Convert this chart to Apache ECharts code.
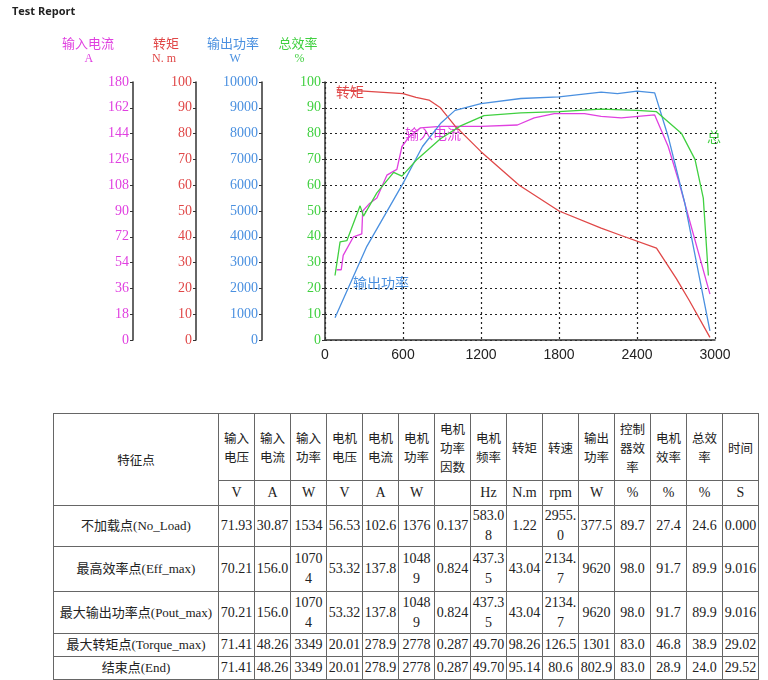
<!DOCTYPE html>
<html><head><meta charset="utf-8">
<script src="https://cdn.jsdelivr.net/npm/echarts@6/dist/echarts.min.js"></script>
<style>
body{margin:0;background:#fff;width:768px;height:680px;overflow:hidden;position:relative;font-family:"Liberation Serif","Noto Sans CJK SC",serif;}
#title{position:absolute;left:12px;top:3px;font:bold 11px "Open Sans",sans-serif;color:#222;}
#chart{position:absolute;left:0;top:0;width:768px;height:400px;}
table{position:absolute;left:53px;top:413px;border-collapse:collapse;table-layout:fixed;width:705px;font-size:14px;color:#222;}
td{border:1px solid #666;text-align:center;padding:0 1px;word-break:break-all;line-height:20px;}
td.cn{font-family:"Noto Sans CJK SC",sans-serif;font-size:12.5px;line-height:19px;}
td.rn{font-family:"Liberation Serif","Noto Sans CJK SC";white-space:nowrap;font-size:13px;}
</style></head><body>
<div id="chart"></div>
<div id="title">Test Report</div>
<table id="tbl"></table>
<script>
// chart data: [rpm, value]
const torque = [[90,97],[300,96.5],[450,96],[600,95.5],[700,94],[800,93],[888,90],[1000,83],[1200,73],[1494,60],[1800,50],[2124,43.4],[2279,40.5],[2550,35.6],[2704,23.7],[2800,15.5],[2961,1]];
const power = [[77,860],[322,3630],[600,6070],[750,7500],[888,8390],[1000,8900],[1200,9160],[1506,9360],[1800,9420],[2124,9610],[2250,9550],[2400,9650],[2536,9580],[2640,7880],[2768,5300],[2961,350]];
const current = [[90,49],[125,49],[140,59],[219,72],[283,74],[290,90],[340,95],[399,99],[476,115],[553,119],[592,135],[650,142],[734,148],[888,149],[1200,149],[1480,150],[1609,155],[1764,158],[1996,158],[2124,156],[2279,155],[2536,157],[2640,135],[2717,112],[2961,32]];
const effic = [[77,25],[116,38],[168,38.5],[270,52],[296,48],[399,57],[528,65],[592,63.5],[708,70],[888,78],[1043,83],[1223,87],[1506,88],[1800,88.5],[2124,89.5],[2400,89],[2550,88.5],[2743,80],[2846,70],[2910,55],[2949,25]];
const axisHeads = [["输入电流","A","#e040e0",88],["转矩","N. m","#e04848",166],["输出功率","W","#4a90e0",233],["总效率","%","#40d040",298]];
// table data
const headTop = ["输入电压","输入电流","输入功率","电机电压","电机电流","电机功率","电机功率因数","电机频率","转矩","转速","输出功率","控制器效率","电机效率","总效率","时间"];
const units = ["V","A","W","V","A","W","","Hz","N.m","rpm","W","%","%","%","S"];
const rowNames = ["不加载点(No_Load)","最高效率点(Eff_max)","最大输出功率点(Pout_max)","最大转矩点(Torque_max)","结束点(End)"];
const rows = [
["71.93","30.87","1534","56.53","102.6","1376","0.137","583.08","1.22","2955.0","377.5","89.7","27.4","24.6","0.000"],
["70.21","156.0","10704","53.32","137.8","10489","0.824","437.35","43.04","2134.7","9620","98.0","91.7","89.9","9.016"],
["70.21","156.0","10704","53.32","137.8","10489","0.824","437.35","43.04","2134.7","9620","98.0","91.7","89.9","9.016"],
["71.41","48.26","3349","20.01","278.9","2778","0.287","49.70","98.26","126.5","1301","83.0","46.8","38.9","29.02"],
["71.41","48.26","3349","20.01","278.9","2778","0.287","49.70","95.14","80.6","802.9","83.0","28.9","24.0","29.52"]];
const rowH = [40,45,42,23,23];

function cell(v){
  if (v.length >= 6) return v.slice(0,5)+'<br>'+v.slice(5);
  if (v.length === 5 && v.indexOf('.') < 0) return v.slice(0,4)+'<br>'+v.slice(4);
  return v;
}
let h = '<colgroup><col style="width:165px">' + headTop.map(()=>'<col style="width:36px">').join('') + '</colgroup>';
h += '<tr style="height:67px"><td class="cn" rowspan="2">特征点</td>' + headTop.map(t=>'<td class="cn">'+t.match(/.{1,2}/g).join('<br>')+'</td>').join('') + '</tr>';
h += '<tr style="height:25px">' + units.map(u=>'<td>'+u+'</td>').join('') + '</tr>';
rows.forEach((r,i)=>{ h += '<tr style="height:'+rowH[i]+'px"><td class="rn">'+rowNames[i]+'</td>' + r.map(v=>'<td>'+cell(v)+'</td>').join('') + '</tr>'; });
document.getElementById('tbl').innerHTML = h;

const chart = echarts.init(document.getElementById('chart'));
function yAx(max, color, offset, interval){
  return {type:'value',min:0,max:max,interval:interval,position:'left',offset:offset,
    axisLine:{show:true,lineStyle:{color:'#333',width:1.5}},axisTick:{show:true,length:3,lineStyle:{color:'#333'}},
    axisLabel:{color:color,fontSize:14,fontFamily:'Liberation Serif',margin:4,formatter:v=>String(v)},splitLine:{show:false}};
}
const yg = yAx(100,'#40d040',0,10);
yg.splitLine = {show:true,lineStyle:{type:[2,3],color:'#222',width:1.2}};
const cols = ['#e040e0','#e04848','#4a90e0','#40d040'];
chart.setOption({
  animation:false,
  grid:{left:325,right:53,top:82,bottom:60},
  xAxis:{type:'value',min:0,max:3000,interval:600,
    axisLine:{lineStyle:{color:'#333',width:1.5}},axisTick:{show:false},
    axisLabel:{color:'#222',fontSize:14,fontFamily:'Liberation Sans',formatter:v=>String(v)},
    splitLine:{show:true,lineStyle:{type:[2,3],color:'#222',width:1.2}}},
  yAxis:[yg, yAx(10000,'#4a90e0',63,1000), yAx(100,'#e04848',129,10), yAx(180,'#e040e0',192,18)],
  series:[
    {type:'line',yAxisIndex:3,data:current,showSymbol:false,lineStyle:{color:cols[0],width:1.3}},
    {type:'line',yAxisIndex:2,data:torque,showSymbol:false,lineStyle:{color:cols[1],width:1.3}},
    {type:'line',yAxisIndex:1,data:power,showSymbol:false,lineStyle:{color:cols[2],width:1.3}},
    {type:'line',yAxisIndex:0,data:effic,showSymbol:false,lineStyle:{color:cols[3],width:1.3}}
  ],
  graphic:[
    ...axisHeads.map(a=>({type:'text',left:a[3]-(a[0].length*13)/2,top:37,style:{text:a[0],fill:a[2],font:'13px "Noto Sans CJK SC"'}})),
    ...axisHeads.map(a=>({type:'text',left:a[3]-a[1].length*3.5,top:53,style:{text:a[1],fill:a[2],font:'12px "Liberation Serif"'}})),
    {type:'text',left:336,top:85,style:{text:'转矩',fill:'#e04848',font:'14px "Noto Sans CJK SC"'}},
    {type:'text',left:405,top:127,style:{text:'输入电流',fill:'#e040e0',font:'14px "Noto Sans CJK SC"'}},
    {type:'text',left:353,top:276,style:{text:'输出功率',fill:'#4a90e0',font:'14px "Noto Sans CJK SC"'}},
    {type:'text',left:707,top:130,style:{text:'总',fill:'#40d040',font:'14px "Noto Sans CJK SC"'}}
  ]
});
</script></body></html>
